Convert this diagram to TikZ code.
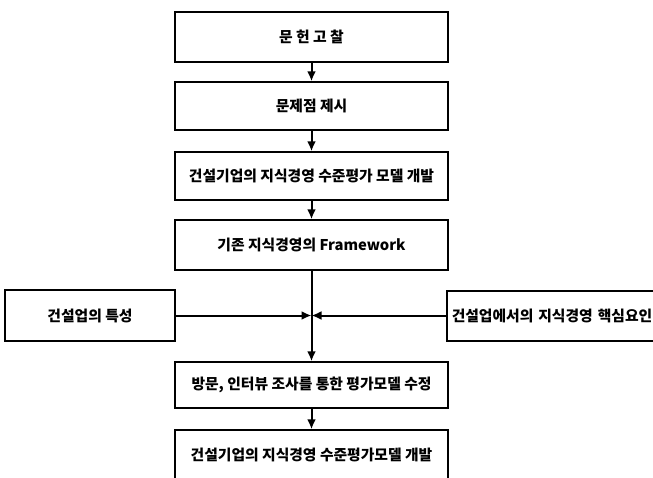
\documentclass[tikz,border=0pt]{standalone}
\usepackage{fontspec}
\newfontfamily\kr{Noto Sans CJK KR}
\usetikzlibrary{arrows.meta}
\begin{document}
\begin{tikzpicture}[x=1pt,y=-1pt,
  box/.style={draw, line width=1.5pt, inner sep=0pt, minimum width=273pt,
    font=\kr\bfseries\fontsize{14.8}{16}\selectfont},
  conn/.style={line width=2pt, -{Latex[length=10pt,width=9pt]}}]
\useasboundingbox (0,0) rectangle (653,477);
\clip (0,0) rectangle (653,477);
\node[box, minimum height=50pt] (b1) at (311.5,37) {문 헌 고 찰};
\node[box, minimum height=48pt] (b2) at (311.5,106) {문제점 제시};
\node[box, minimum height=48pt] (b3) at (311.5,176) {건설기업의 지식경영 수준평가 모델 개발};
\node[box, minimum height=50pt] (b4) at (311.5,245) {기존 지식경영의 Framework};
\node[box, minimum height=46pt] (b5) at (311.5,385) {방문, 인터뷰 조사를 통한 평가모델 수정};
\node[box, minimum height=50pt] (b6) at (311.5,455) {건설기업의 지식경영 수준평가모델 개발};
\node[box, minimum width=170pt, minimum height=51pt] (l) at (90,315.5) {건설업의 특성};
\node[box, anchor=west, minimum width=225pt, minimum height=50pt, text width=215pt, inner xsep=5pt, align=left] (r) at (446,316) {건설업에서의 지식경영 핵심요인};
\coordinate (j) at (311.5,315.5);
\draw[conn] (b1) -- (b2);
\draw[conn] (b2) -- (b3);
\draw[conn] (b3) -- (b4);
\draw[conn] (b4) -- (b5);
\draw[conn] (b5) -- (b6);
\draw[conn] (l.east |- j) -- (j);
\draw[conn] (r.west |- j) -- (j);
\end{tikzpicture}
\end{document}
